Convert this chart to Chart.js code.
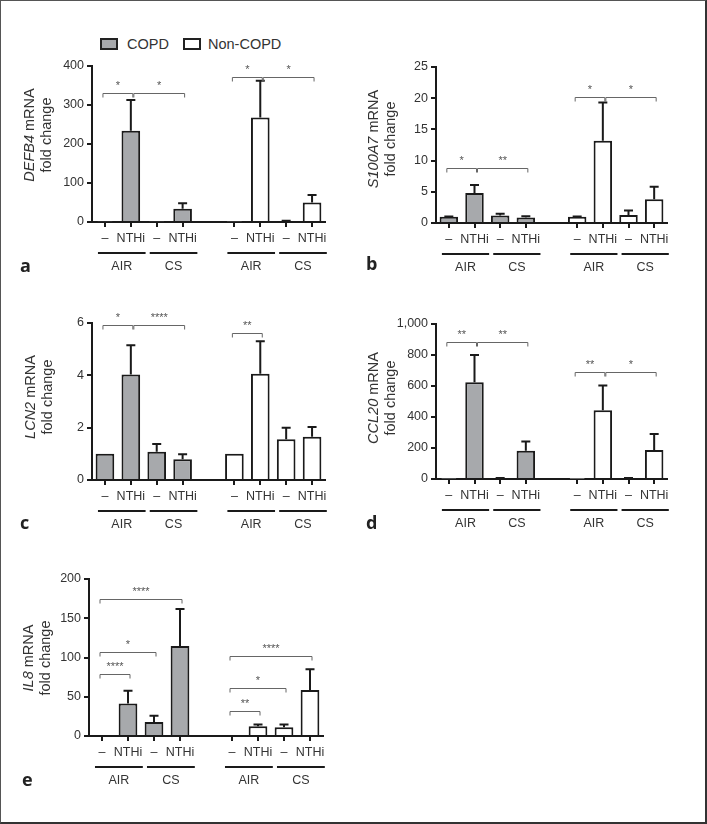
<!DOCTYPE html>
<html>
<head>
<meta charset="utf-8">
<script src="https://cdn.jsdelivr.net/npm/chart.js@4.4.0/dist/chart.umd.min.js"></script>
<style>
  body { margin: 0; background: #fff; }
  #fig { position: relative; width: 707px; height: 824px; background: #fff; font-family: "Liberation Sans", Arial, sans-serif; color: #333; overflow: hidden; }
  #fig canvas { position: absolute; }
  .frame { position: absolute; left: 0; top: 0; width: 707px; height: 824px; box-sizing: border-box; border: 1px solid #555; border-right: 2px solid #333; border-bottom: 2px solid #333; }
  .swatch { position: absolute; top: 38px; width: 14px; height: 8px; border: 2px solid #222; }
  .leg { position: absolute; top: 36px; font-size: 14.5px; line-height: 16px; color: #333; }
  .letter { position: absolute; font-family: "Open Sans", "DejaVu Sans", sans-serif; font-weight: bold; font-size: 18px; line-height: 20px; color: #222; }
</style>
</head>
<body>
<div id="fig">
  <div class="swatch" style="left:100px;background:#a7a9ac"></div>
  <div class="leg" style="left:127px">COPD</div>
  <div class="swatch" style="left:183px;background:#fff"></div>
  <div class="leg" style="left:208px">Non-COPD</div>

  <canvas id="pa"></canvas>
  <canvas id="pb"></canvas>
  <canvas id="pc"></canvas>
  <canvas id="pd"></canvas>
  <canvas id="pe"></canvas>

  <div class="letter" style="left:20px;top:255px">a</div>
  <div class="letter" style="left:366px;top:253px">b</div>
  <div class="letter" style="left:20px;top:512px">c</div>
  <div class="letter" style="left:366px;top:512px">d</div>
  <div class="letter" style="left:22px;top:769px">e</div>
  <div class="frame"></div>
</div>
<script>
const FONT = '"Liberation Sans", Arial, Helvetica, sans-serif';
const INK = '#1a1a1a';
const TEXT = '#333';
const GREY = '#a7a9ac';

// x categories: COPD (AIR -, AIR NTHi, CS -, CS NTHi), gap, Non-COPD (same)
const xLabels = ['–', 'NTHi', '–', 'NTHi', '', '–', 'NTHi', '–', 'NTHi'];
const exposures = ['AIR', 'CS', 'AIR', 'CS'];
const exposurePairs = [[0, 1], [2, 3], [5, 6], [7, 8]];

// a - DEFB4
const defb4Copd = [1, 234, 1, 34];
const defb4CopdErr = [0, 79, 0, 14];
const defb4Non = [1, 268, 2, 50];
const defb4NonErr = [0, 94, 1, 19];
const defb4Sig = [[0, 1, 332, '*'], [1, 3, 332, '*'], [5, 6, 371, '*'], [6, 8, 371, '*']];

// b - S100A7
const s100a7Copd = [1.0, 4.8, 1.2, 0.9];
const s100a7CopdErr = [0.05, 1.3, 0.3, 0.2];
const s100a7Non = [1.0, 13.2, 1.3, 3.8];
const s100a7NonErr = [0.05, 6.1, 0.7, 2.0];
const s100a7Sig = [[0, 1, 8.8, '*'], [1, 3, 8.8, '**'], [5, 6, 20.2, '*'], [6, 8, 20.2, '*']];

// c - LCN2
const lcn2Copd = [1.0, 4.03, 1.08, 0.79];
const lcn2CopdErr = [0, 1.12, 0.30, 0.19];
const lcn2Non = [1.0, 4.06, 1.56, 1.65];
const lcn2NonErr = [0, 1.24, 0.44, 0.38];
const lcn2Sig = [[0, 1, 5.93, '*'], [1, 3, 5.93, '****'], [5, 6, 5.6, '**']];

// d - CCL20
const ccl20Copd = [1, 625, 5, 182];
const ccl20CopdErr = [0, 175, 2, 60];
const ccl20Non = [1, 444, 5, 187];
const ccl20NonErr = [0, 159, 2, 103];
const ccl20Sig = [[0, 1, 886, '**'], [1, 3, 886, '**'], [5, 6, 689, '**'], [6, 8, 689, '*']];

// e - IL8
const il8Copd = [1, 41.5, 17.8, 114.8];
const il8CopdErr = [0, 16, 8, 47];
const il8Non = [1, 12.3, 11, 58.5];
const il8NonErr = [0, 2.2, 3.8, 26.5];
const il8Sig = [[0, 3, 175, '****'], [0, 2, 107, '*'], [0, 1, 79, '****'],
                [5, 8, 102, '****'], [5, 7, 60.6, '*'], [5, 6, 32, '**']];

const W = 350, H = 250, YW = 40, XH = 22;

// layout: canvas offset, chart area [left, top, right, bottom], title baselines + centre (page px)
const panels = {
  pa: { gene: 'DEFB4', copd: defb4Copd, copdErr: defb4CopdErr, non: defb4Non, nonErr: defb4NonErr, sig: defb4Sig,
        max: 400, step: 100, left: 0, top: 40, area: [92, 66, 325, 222], title: [34, 51, 135] },
  pb: { gene: 'S100A7', copd: s100a7Copd, copdErr: s100a7CopdErr, non: s100a7Non, nonErr: s100a7NonErr, sig: s100a7Sig,
        max: 25, step: 5, left: 350, top: 40, area: [436, 67, 667, 223], title: [378, 395, 139] },
  pc: { gene: 'LCN2', copd: lcn2Copd, copdErr: lcn2CopdErr, non: lcn2Non, nonErr: lcn2NonErr, sig: lcn2Sig,
        max: 6, step: 2, left: 0, top: 297, area: [92, 323, 325, 480], title: [35, 52, 397] },
  pd: { gene: 'CCL20', copd: ccl20Copd, copdErr: ccl20CopdErr, non: ccl20Non, nonErr: ccl20NonErr, sig: ccl20Sig,
        max: 1000, step: 200, left: 350, top: 297, area: [436, 324, 667, 479], title: [378, 395, 398] },
  pe: { gene: 'IL8', copd: il8Copd, copdErr: il8CopdErr, non: il8Non, nonErr: il8NonErr, sig: il8Sig,
        max: 200, step: 50, left: 0, top: 553, area: [89, 579, 323, 736], title: [33, 50, 658] }
};

function drawRotated(ctx, parts, bx, cy) {
  ctx.save();
  ctx.translate(bx, cy);
  ctx.rotate(-Math.PI / 2);
  ctx.textBaseline = 'alphabetic';
  ctx.textAlign = 'left';
  ctx.fillStyle = TEXT;
  const widths = parts.map(([t, st]) => { ctx.font = st + '14.5px ' + FONT; return ctx.measureText(t).width; });
  let xx = -widths.reduce((a, b) => a + b, 0) / 2;
  parts.forEach(([t, st], i) => {
    ctx.font = st + '14.5px ' + FONT;
    ctx.fillText(t, xx, 0);
    xx += widths[i];
  });
  ctx.restore();
}

const decor = {
  id: 'decor',
  afterDatasetsDraw(chart) {
    const ctx = chart.ctx, y = chart.scales.y;
    ctx.save();
    ctx.strokeStyle = INK;
    ctx.lineWidth = 2;
    chart.data.datasets.forEach((ds, di) => {
      chart.getDatasetMeta(di).data.forEach((bar, i) => {
        const v = ds.data[i], e = ds.errors[i];
        if (v == null || !e) return;
        const yTop = y.getPixelForValue(v + e);
        ctx.beginPath();
        ctx.moveTo(bar.x, bar.y);
        ctx.lineTo(bar.x, yTop);
        ctx.moveTo(bar.x - 4.5, yTop);
        ctx.lineTo(bar.x + 4.5, yTop);
        ctx.stroke();
      });
    });
    ctx.restore();
  },
  afterDraw(chart) {
    const p = panels[chart.canvas.id];
    const ctx = chart.ctx, x = chart.scales.x, y = chart.scales.y;
    ctx.save();

    // significance brackets
    ctx.strokeStyle = '#666';
    ctx.lineWidth = 1;
    ctx.fillStyle = '#555';
    ctx.font = '11px ' + FONT;
    ctx.textAlign = 'center';
    ctx.textBaseline = 'alphabetic';
    p.sig.forEach(([a, b, v, label]) => {
      const shared = p.sig.some(s => s[1] === a);
      const x1 = x.getPixelForValue(a) + (shared ? 3 : -2);
      const x2 = x.getPixelForValue(b) + 2;
      const yy = Math.round(y.getPixelForValue(v)) + 0.5;
      ctx.beginPath();
      ctx.moveTo(x1, yy + 4);
      ctx.lineTo(x1, yy);
      ctx.lineTo(x2, yy);
      ctx.lineTo(x2, yy + 4);
      ctx.stroke();
      ctx.fillText(label, (x1 + x2) / 2, yy - 5);
    });

    // AIR / CS group bars under the axis
    const yb = y.getPixelForValue(0);
    const s = x.getPixelForValue(1) - x.getPixelForValue(0);
    ctx.fillStyle = INK;
    ctx.font = '12.5px ' + FONT;
    ctx.textBaseline = 'middle';
    exposurePairs.forEach(([i, j], k) => {
      const mid = (x.getPixelForValue(i) + x.getPixelForValue(j)) / 2 + 0.15 * s;
      ctx.fillStyle = INK;
      ctx.fillRect(mid - 0.92 * s, Math.round(yb) + 30, 1.84 * s, 2);
      ctx.fillStyle = TEXT;
      ctx.fillText(exposures[k], mid, yb + 45);
    });
    ctx.restore();

    // y axis title
    const [b1, b2, cy] = p.title;
    drawRotated(ctx, [[p.gene, 'italic '], [' mRNA', '']], b1 - p.left, cy - p.top);
    drawRotated(ctx, [['fold change', '']], b2 - p.left, cy - p.top);
  }
};

function makeChart(id) {
  const p = panels[id];
  const cv = document.getElementById(id);
  cv.width = W;
  cv.height = H;
  cv.style.left = p.left + 'px';
  cv.style.top = p.top + 'px';
  const [l, t, r, b] = p.area;
  const gap = [null, null, null, null, null];

  new Chart(cv, {
    type: 'bar',
    data: {
      labels: xLabels,
      datasets: [
        { label: 'COPD', data: p.copd.concat(gap), errors: p.copdErr.concat(gap),
          backgroundColor: GREY, borderColor: INK, borderWidth: 2 },
        { label: 'Non-COPD', data: gap.concat(p.non), errors: gap.concat(p.nonErr),
          backgroundColor: '#fff', borderColor: INK, borderWidth: 2 }
      ]
    },
    options: {
      responsive: false,
      animation: false,
      devicePixelRatio: 1,
      layout: { padding: { left: l - p.left - YW, top: t - p.top, right: p.left + W - r, bottom: p.top + H - b - XH } },
      datasets: { bar: { grouped: false, barPercentage: 0.72, categoryPercentage: 1 } },
      plugins: { legend: { display: false }, tooltip: { enabled: false } },
      scales: {
        x: {
          offset: true,
          z: 1,
          afterFit: sc => { sc.height = XH; },
          grid: { offset: false, drawOnChartArea: false, tickLength: 5, lineWidth: 2,
                  color: c => c.index === 4 ? 'rgba(0,0,0,0)' : INK },
          border: { display: true, color: INK, width: 2 },
          ticks: { color: TEXT, font: { family: FONT, size: 12.5 }, padding: 4, maxRotation: 0, autoSkip: false }
        },
        y: {
          min: 0,
          max: p.max,
          z: 1,
          afterFit: sc => { sc.width = YW; },
          grid: { drawOnChartArea: false, tickLength: 5, lineWidth: 2, color: INK },
          border: { display: true, color: INK, width: 2 },
          ticks: { stepSize: p.step, color: TEXT, font: { family: FONT, size: 12.5 }, padding: 3 }
        }
      }
    },
    plugins: [decor]
  });
}

Object.keys(panels).forEach(makeChart);
</script>
</body>
</html>
